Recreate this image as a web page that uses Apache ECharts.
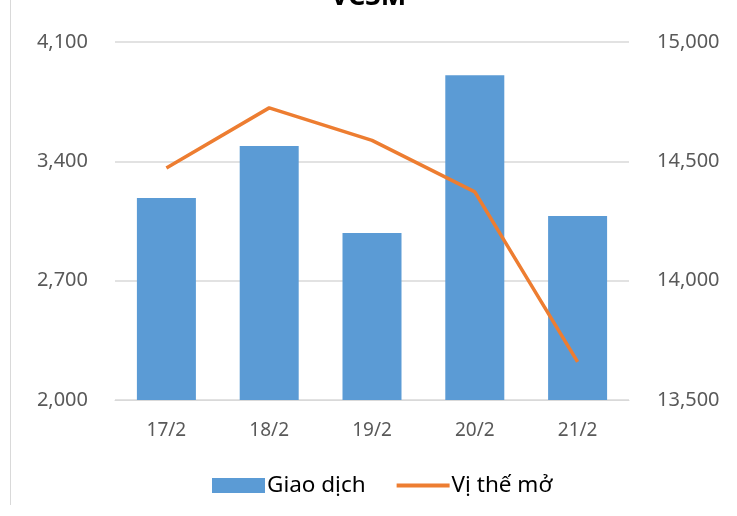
<!DOCTYPE html>
<html><head><meta charset="utf-8">
<script src="https://cdn.jsdelivr.net/npm/echarts@6/dist/echarts.min.js"></script>
<style>html,body{margin:0;padding:0;background:#fff}#c{width:737px;height:516px}</style>
</head><body><div id="c"></div>
<script>
const categories = ['17/2', '18/2', '19/2', '20/2', '21/2'];
const giaoDich = [3185, 3490, 2980, 3905, 3080];
const viTheMo = [14472, 14724, 14588, 14372, 13660];
const leftTicks = [2000, 2700, 3400, 4100];
const rightTicks = [13500, 14000, 14500, 15000];

const fmt = v => v.toLocaleString('en-US');
const font = '"Noto Sans", "Open Sans", sans-serif';
const chart = echarts.init(document.getElementById('c'));
chart.setOption({
  animation: false,
  textStyle: { fontFamily: font },
  title: { text: 'VC3M', left: 'center', top: -21, textStyle: { fontSize: 27, fontWeight: 'bold', color: '#000', fontFamily: font } },
  graphic: [{ type: 'line', shape: { x1: 10.5, y1: 0, x2: 10.5, y2: 505 }, style: { stroke: '#d9d9d9', lineWidth: 1 } }],
  grid: { left: 115, right: 108, top: 42, bottom: 116, containLabel: false },
  legend: {
    bottom: 14, left: 207, itemGap: 31,
    itemWidth: 53, itemHeight: 15,
    textStyle: { fontSize: 22.5, color: '#000', fontFamily: font, padding: [0, 0, 0, -3] },
    data: [{ name: 'Giao dịch', icon: 'rect' }, { name: 'Vị thế mở', icon: 'path://M0,0 L52,0 L52,4 L0,4 Z' }]
  },
  xAxis: {
    type: 'category', data: categories,
    axisLine: { lineStyle: { color: '#d9d9d9' } }, axisTick: { show: false },
    axisLabel: { color: '#595959', fontSize: 19, margin: 21, fontFamily: font }
  },
  yAxis: [{
    type: 'value', min: leftTicks[0], max: leftTicks[leftTicks.length - 1], interval: 700,
    axisLabel: { color: '#595959', fontSize: 20, margin: 27, formatter: fmt, fontFamily: font },
    splitLine: { lineStyle: { color: '#d9d9d9', width: 1.5 } },
    axisLine: { show: false }, axisTick: { show: false }
  }, {
    type: 'value', min: rightTicks[0], max: rightTicks[rightTicks.length - 1], interval: 500,
    axisLabel: { color: '#595959', fontSize: 20, margin: 28, formatter: fmt, fontFamily: font },
    splitLine: { show: false }, axisLine: { show: false }, axisTick: { show: false }
  }],
  series: [{
    name: 'Giao dịch', type: 'bar', data: giaoDich, barWidth: 59,
    itemStyle: { color: '#5b9bd5' }
  }, {
    name: 'Vị thế mở', type: 'line', yAxisIndex: 1, data: viTheMo,
    symbol: 'none', lineStyle: { color: '#ed7d31', width: 3.5 }, itemStyle: { color: '#ed7d31' }
  }]
});
</script></body></html>
